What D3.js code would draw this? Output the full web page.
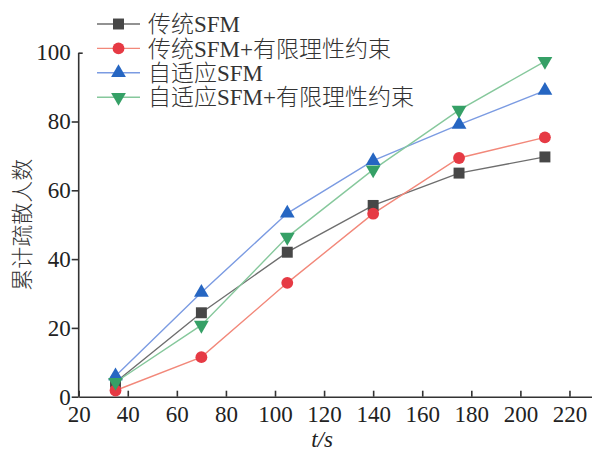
<!DOCTYPE html>
<html>
<head>
<meta charset="utf-8">
<script src="https://cdn.jsdelivr.net/npm/d3@7"></script>
<style>
    body { margin: 0; background: #fff; }
    svg { display: block; }
</style>
</head>
<body>
<div id="chart"></div>
<script>
// data
const times = [35, 70, 105, 140, 175, 210];
const seriesNames = ['传统SFM', '传统SFM+有限理性约束', '自适应SFM', '自适应SFM+有限理性约束'];
const sfm = [4.2, 24.4, 42.0, 55.6, 65.0, 69.7];
const sfmBounded = [1.8, 11.5, 33.1, 53.2, 69.4, 75.4];
const adaptive = [6.0, 30.3, 53.3, 68.6, 79.1, 89.0];
const adaptiveBounded = [4.2, 20.8, 46.4, 66.0, 83.3, 97.5];
const xTicks = [20, 40, 60, 80, 100, 120, 140, 160, 180, 200, 220];
const yTicks = [0, 20, 40, 60, 80, 100];

const width = 592, height = 452;
const serif = '"Liberation Serif", "Times New Roman", Times, serif';
const cjk = '"Noto Sans CJK SC", "Noto Sans CJK JP", sans-serif';

const svg = d3.select('#chart')
    .append('svg')
    .attr('width', width)
    .attr('height', height);

// scales
const x = d3.scaleLinear().domain([20, 230]).range([78.7, 594]);
const y = d3.scaleLinear().domain([0, 100]).range([396.7, 52.7]);

// x axis, ticks point inward
svg.append('g')
    .attr('transform', `translate(0, ${y(0)})`)
    .call(d3.axisBottom(x).tickValues(xTicks).tickSizeInner(-6).tickSizeOuter(0).tickPadding(9))
    .call(g => g.selectAll('line, path').attr('stroke', '#333').attr('stroke-width', 1.6))
    .call(g => g.selectAll('text').style('font-family', serif).style('font-size', '23px').attr('fill', '#222'));

// y axis, ticks point outward
svg.append('g')
    .attr('transform', `translate(${x(20)}, 0)`)
    .call(d3.axisLeft(y).tickValues(yTicks.slice(0, 5)).tickSize(7).tickPadding(1).tickFormat(d3.format('d')))
    .call(g => g.selectAll('line, path').attr('stroke', '#333').attr('stroke-width', 1.6))
    .call(g => g.select('.domain').attr('d', `M0,${y(0)}V${y(100)}`))
    .call(g => g.selectAll('text').style('font-family', serif).style('font-size', '23px').attr('fill', '#222'));

// top tick of y axis goes inward
svg.append('g')
    .attr('transform', `translate(${x(20)}, 0)`)
    .call(d3.axisRight(y).tickValues([100]).tickSize(4).tickSizeOuter(0).tickFormat(''))
    .call(g => g.select('.domain').remove())
    .call(g => g.selectAll('line').attr('stroke', '#333').attr('stroke-width', 1.6));
svg.append('text')
    .attr('x', x(20) - 8)
    .attr('y', y(100))
    .attr('dy', '0.32em')
    .attr('text-anchor', 'end')
    .style('font-family', serif)
    .style('font-size', '23px')
    .attr('fill', '#222')
    .text(yTicks[5]);

// axis titles
svg.append('text')
    .attr('x', 322)
    .attr('y', 447)
    .attr('text-anchor', 'middle')
    .style('font-family', serif)
    .style('font-size', '23px')
    .style('font-style', 'italic')
    .attr('fill', '#222')
    .text('t/s');

svg.append('text')
    .attr('transform', `translate(22, ${y(50)}) rotate(-90)`)
    .attr('text-anchor', 'middle')
    .attr('dy', '0.35em')
    .style('font-family', cjk)
    .style('font-size', '22px')
    .style('font-weight', 300)
    .attr('fill', '#333')
    .text('累计疏散人数');

// series setup
const series = [
    { name: seriesNames[0], values: sfm, line: '#6e6e6e', mark: '#474747', symbol: d3.symbolSquare, size: 120, rot: 0 },
    { name: seriesNames[1], values: sfmBounded, line: '#f2887a', mark: '#e63a44', symbol: d3.symbolCircle, size: 110, rot: 0 },
    { name: seriesNames[2], values: adaptive, line: '#7b9be2', mark: '#2666c2', symbol: d3.symbolTriangle, size: 95, rot: 0 },
    { name: seriesNames[3], values: adaptiveBounded, line: '#86c89c', mark: '#35a066', symbol: d3.symbolTriangle, size: 95, rot: 180 }
];

const line = d3.line()
    .x((d, i) => x(times[i]))
    .y(d => y(d));

series.forEach(s => {
    svg.append('path')
        .datum(s.values)
        .attr('fill', 'none')
        .attr('stroke', s.line)
        .attr('stroke-width', 1.4)
        .attr('d', line);
});

series.forEach(s => {
    svg.selectAll(null)
        .data(s.values)
        .enter().append('path')
        .attr('d', d3.symbol(s.symbol, s.size))
        .attr('transform', (d, i) => `translate(${x(times[i])}, ${y(d)}) rotate(${s.rot})`)
        .attr('fill', s.mark);
});

// legend
const legend = svg.append('g').attr('transform', 'translate(97, 24)');
series.forEach((s, i) => {
    const row = legend.append('g').attr('transform', `translate(0, ${i * 24.4})`);
    row.append('line')
        .attr('x1', 0).attr('x2', 43)
        .attr('stroke', s.line)
        .attr('stroke-width', 1.4);
    row.append('path')
        .attr('d', d3.symbol(s.symbol, s.size))
        .attr('transform', `translate(21.5, 0) rotate(${s.rot})`)
        .attr('fill', s.mark);
    row.append('text')
        .attr('x', 51)
        .attr('dy', '0.36em')
        .style('font-family', `"Liberation Serif", ${cjk}`)
        .style('font-size', '23px')
        .style('font-weight', 300)
        .attr('fill', '#333')
        .text(s.name);
});
</script>
</body>
</html>
